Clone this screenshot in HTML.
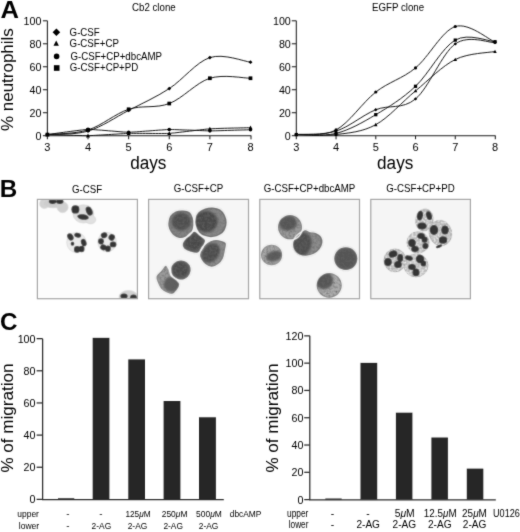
<!DOCTYPE html>
<html><head><meta charset="utf-8"><title>Figure</title>
<style>html,body{margin:0;padding:0;background:#fff;}body{width:520px;height:532px;overflow:hidden;font-family:"Liberation Sans", sans-serif;}svg{display:block;}</style>
</head><body>
<svg width="520" height="532" viewBox="0 0 520 532" font-family='"Liberation Sans", sans-serif'>
<rect width="520" height="532" fill="#fff"/>
<defs><filter id="soft" x="0" y="0" width="520" height="532" filterUnits="userSpaceOnUse"><feConvolveMatrix order="3" kernelMatrix="0.02 0.08 0.02 0.08 0.60 0.08 0.02 0.08 0.02" divisor="1" edgeMode="duplicate"/></filter></defs>
<g filter="url(#soft)">
<g font-size="24.2" font-weight="bold" fill="#000">
<text x="0.6" y="17.8" textLength="18.5" lengthAdjust="spacingAndGlyphs">A</text>
<text x="-0.3" y="196.5">B</text>
<text x="0.1" y="330.1">C</text>
</g>
<g stroke="#222" stroke-width="1.05" fill="none">
<path d="M47.40,20.80 V135.70 H251.30"/>
<path d="M42.90,135.70 H47.40"/>
<path d="M42.90,112.72 H47.40"/>
<path d="M42.90,89.74 H47.40"/>
<path d="M42.90,66.76 H47.40"/>
<path d="M42.90,43.78 H47.40"/>
<path d="M42.90,20.80 H47.40"/>
<path d="M47.40,135.70 V139.20"/>
<path d="M88.02,135.70 V139.20"/>
<path d="M128.64,135.70 V139.20"/>
<path d="M169.26,135.70 V139.20"/>
<path d="M209.88,135.70 V139.20"/>
<path d="M251.00,135.70 V139.20"/>
</g>
<g font-size="10.7" fill="#000" text-anchor="end">
<text x="41.40" y="139.70">0</text>
<text x="41.40" y="116.72">20</text>
<text x="41.40" y="93.74">40</text>
<text x="41.40" y="70.76">60</text>
<text x="41.40" y="47.78">80</text>
<text x="41.40" y="24.80">100</text>
</g>
<g font-size="11" fill="#000" text-anchor="middle">
<text x="47.40" y="151.00">3</text>
<text x="88.02" y="151.00">4</text>
<text x="128.64" y="151.00">5</text>
<text x="169.26" y="151.00">6</text>
<text x="209.88" y="151.00">7</text>
<text x="250.50" y="151.00">8</text>
</g>
<path d="M47.40,134.55 C54.17,133.98 74.48,135.13 88.02,131.10 C101.56,127.08 115.10,117.51 128.64,110.42 C142.18,103.34 155.72,97.40 169.26,88.59 C182.80,79.78 196.34,61.97 209.88,57.57 C223.42,53.16 243.73,61.40 250.50,62.16" fill="none" stroke="#111" stroke-width="0.95"/>
<g fill="#000"><path d="M45.45,134.55 L47.40,132.65 L49.35,134.55 L47.40,136.45 Z"/><path d="M86.07,131.10 L88.02,129.20 L89.97,131.10 L88.02,133.00 Z"/><path d="M126.69,110.42 L128.64,108.52 L130.59,110.42 L128.64,112.32 Z"/><path d="M167.31,88.59 L169.26,86.69 L171.21,88.59 L169.26,90.49 Z"/><path d="M207.93,57.57 L209.88,55.67 L211.83,57.57 L209.88,59.47 Z"/><path d="M248.55,62.16 L250.50,60.26 L252.45,62.16 L250.50,64.06 Z"/></g>
<path d="M47.40,134.55 C54.17,133.78 74.48,134.17 88.02,129.95 C101.56,125.74 115.10,113.68 128.64,109.27 C142.18,104.87 155.72,108.70 169.26,103.53 C182.80,98.36 196.34,82.46 209.88,78.25 C223.42,74.04 243.73,78.25 250.50,78.25" fill="none" stroke="#111" stroke-width="0.95"/>
<g fill="#000"><rect x="45.55" y="132.70" width="3.70" height="3.70"/><rect x="86.17" y="128.10" width="3.70" height="3.70"/><rect x="126.79" y="107.42" width="3.70" height="3.70"/><rect x="167.41" y="101.68" width="3.70" height="3.70"/><rect x="208.03" y="76.40" width="3.70" height="3.70"/><rect x="248.65" y="76.40" width="3.70" height="3.70"/></g>
<path d="M47.40,134.55 C49.84,134.62 83.15,135.77 88.02,135.70 C92.89,135.63 123.77,133.54 128.64,133.40 C133.51,133.26 164.39,133.68 169.26,133.40 C174.13,133.13 205.01,129.15 209.88,128.81 C214.75,128.46 248.06,127.73 250.50,127.66" fill="none" stroke="#111" stroke-width="0.95"/>
<g fill="#000"><path d="M45.40,136.23 L47.40,132.45 L49.40,136.23 Z"/><path d="M86.02,137.38 L88.02,133.60 L90.02,137.38 Z"/><path d="M126.64,135.08 L128.64,131.30 L130.64,135.08 Z"/><path d="M167.26,135.08 L169.26,131.30 L171.26,135.08 Z"/><path d="M207.88,130.49 L209.88,126.71 L211.88,130.49 Z"/><path d="M248.50,129.34 L250.50,125.56 L252.50,129.34 Z"/></g>
<path d="M47.40,134.55 C49.84,134.24 83.15,129.52 88.02,129.38 C92.89,129.24 123.77,132.25 128.64,132.25 C133.51,132.26 164.39,129.58 169.26,129.50 C174.13,129.41 205.01,130.86 209.88,130.87 C214.75,130.89 248.06,129.79 250.50,129.73" fill="none" stroke="#111" stroke-width="0.95"/>
<g fill="#000"><circle cx="47.40" cy="134.55" r="1.80"/><circle cx="88.02" cy="129.38" r="1.80"/><circle cx="128.64" cy="132.25" r="1.80"/><circle cx="169.26" cy="129.50" r="1.80"/><circle cx="209.88" cy="130.87" r="1.80"/><circle cx="250.50" cy="129.73" r="1.80"/></g>
<g stroke="#222" stroke-width="1.05" fill="none">
<path d="M296.30,20.80 V135.70 H495.60"/>
<path d="M291.80,135.70 H296.30"/>
<path d="M291.80,112.72 H296.30"/>
<path d="M291.80,89.74 H296.30"/>
<path d="M291.80,66.76 H296.30"/>
<path d="M291.80,43.78 H296.30"/>
<path d="M291.80,20.80 H296.30"/>
<path d="M296.30,135.70 V139.20"/>
<path d="M336.04,135.70 V139.20"/>
<path d="M375.78,135.70 V139.20"/>
<path d="M415.52,135.70 V139.20"/>
<path d="M455.26,135.70 V139.20"/>
<path d="M495.30,135.70 V139.20"/>
</g>
<g font-size="10.7" fill="#000" text-anchor="end">
<text x="290.80" y="139.70">0</text>
<text x="290.80" y="116.72">20</text>
<text x="290.80" y="93.74">40</text>
<text x="290.80" y="70.76">60</text>
<text x="290.80" y="47.78">80</text>
<text x="290.80" y="24.80">100</text>
</g>
<g font-size="11" fill="#000" text-anchor="middle">
<text x="296.30" y="151.00">3</text>
<text x="336.04" y="151.00">4</text>
<text x="375.78" y="151.00">5</text>
<text x="415.52" y="151.00">6</text>
<text x="455.26" y="151.00">7</text>
<text x="495.00" y="151.00">8</text>
</g>
<path d="M296.30,134.55 C302.92,133.78 322.79,137.04 336.04,129.95 C349.29,122.87 362.53,102.38 375.78,92.04 C389.03,81.70 402.27,78.82 415.52,67.91 C428.77,56.99 442.01,30.85 455.26,26.54 C468.51,22.24 488.38,39.47 495.00,42.06" fill="none" stroke="#111" stroke-width="0.95"/>
<g fill="#000"><circle cx="296.30" cy="134.55" r="1.58"/><circle cx="336.04" cy="129.95" r="1.58"/><circle cx="375.78" cy="92.04" r="1.58"/><circle cx="415.52" cy="67.91" r="1.58"/><circle cx="455.26" cy="26.54" r="1.58"/><circle cx="495.00" cy="42.06" r="1.58"/></g>
<path d="M296.30,134.55 C302.92,133.98 322.79,135.24 336.04,131.10 C349.29,126.97 362.53,115.09 375.78,109.73 C389.03,104.37 402.27,109.90 415.52,98.93 C428.77,87.96 442.01,53.28 455.26,43.89 C468.51,34.51 488.38,42.84 495.00,42.63" fill="none" stroke="#111" stroke-width="0.95"/>
<g fill="#000"><path d="M294.58,134.55 L296.30,132.88 L298.02,134.55 L296.30,136.22 Z"/><path d="M334.32,131.10 L336.04,129.43 L337.76,131.10 L336.04,132.78 Z"/><path d="M374.06,109.73 L375.78,108.06 L377.50,109.73 L375.78,111.40 Z"/><path d="M413.80,98.93 L415.52,97.26 L417.24,98.93 L415.52,100.60 Z"/><path d="M453.54,43.89 L455.26,42.22 L456.98,43.89 L455.26,45.57 Z"/><path d="M493.28,42.63 L495.00,40.96 L496.72,42.63 L495.00,44.30 Z"/></g>
<path d="M296.30,134.55 C302.92,134.36 322.79,136.71 336.04,133.40 C349.29,130.09 362.53,122.52 375.78,114.67 C389.03,106.82 402.27,98.72 415.52,86.29 C428.77,73.86 442.01,47.53 455.26,40.10 C468.51,32.67 488.38,41.44 495.00,41.71" fill="none" stroke="#111" stroke-width="0.95"/>
<g fill="#000"><rect x="294.67" y="132.92" width="3.26" height="3.26"/><rect x="334.41" y="131.77" width="3.26" height="3.26"/><rect x="374.15" y="113.05" width="3.26" height="3.26"/><rect x="413.89" y="84.66" width="3.26" height="3.26"/><rect x="453.63" y="38.48" width="3.26" height="3.26"/><rect x="493.37" y="40.08" width="3.26" height="3.26"/></g>
<path d="M296.30,134.55 C302.92,134.55 322.79,136.20 336.04,134.55 C349.29,132.90 362.53,131.95 375.78,124.67 C389.03,117.39 402.27,101.75 415.52,90.89 C428.77,80.03 442.01,66.09 455.26,59.52 C468.51,52.95 488.38,52.82 495.00,51.48" fill="none" stroke="#111" stroke-width="0.95"/>
<g fill="#000"><path d="M294.54,136.03 L296.30,132.70 L298.06,136.03 Z"/><path d="M334.28,136.03 L336.04,132.70 L337.80,136.03 Z"/><path d="M374.02,126.15 L375.78,122.82 L377.54,126.15 Z"/><path d="M413.76,92.37 L415.52,89.04 L417.28,92.37 Z"/><path d="M453.50,61.00 L455.26,57.67 L457.02,61.00 Z"/><path d="M493.24,52.96 L495.00,49.63 L496.76,52.96 Z"/></g>
<g fill="#000">
<text x="132.00" y="11.00" font-size="10.2" textLength="43.68" lengthAdjust="spacingAndGlyphs">Cb2 clone</text>
<text x="372.00" y="11.00" font-size="10.2" textLength="52.12" lengthAdjust="spacingAndGlyphs">EGFP clone</text>
<text x="69.60" y="35.60" font-size="10.2" textLength="30.17" lengthAdjust="spacingAndGlyphs">G-CSF</text>
<text x="69.60" y="46.60" font-size="10.2" textLength="49.32" lengthAdjust="spacingAndGlyphs">G-CSF+CP</text>
<text x="70.40" y="59.50" font-size="10.2" textLength="91.64" lengthAdjust="spacingAndGlyphs">G-CSF+CP+dbcAMP</text>
<text x="69.80" y="70.90" font-size="10.2" textLength="68.46" lengthAdjust="spacingAndGlyphs">G-CSF+CP+PD</text>
</g>
<g fill="#000">
<path d="M52.60,32.30 L56.40,28.59 L60.20,32.30 L56.40,36.00 Z"/>
<path d="M53.50,45.67 L56.20,40.56 L58.90,45.67 Z"/>
<circle cx="56.60" cy="56.40" r="2.79"/>
<rect x="53.89" y="65.19" width="5.62" height="5.62"/>
</g>
<text font-size="18" fill="#000" x="130.2" y="168.6" textLength="36.2" lengthAdjust="spacingAndGlyphs">days</text>
<text font-size="18" fill="#000" x="377.1" y="168.6" textLength="36.2" lengthAdjust="spacingAndGlyphs">days</text>
<text font-size="17" fill="#000" transform="translate(12.8,131.0) rotate(-90)" textLength="102.8" lengthAdjust="spacingAndGlyphs">% neutrophils</text>
<defs>
<filter id="b1" x="-20%" y="-20%" width="140%" height="140%"><feConvolveMatrix order="3" kernelMatrix="0 1 0 1 12 1 0 1 0" divisor="16" edgeMode="none"/></filter>
<filter id="b2" x="-20%" y="-20%" width="140%" height="140%"><feGaussianBlur stdDeviation="1.0"/></filter>
<filter id="tx" x="-5%" y="-5%" width="110%" height="110%"><feConvolveMatrix in="SourceGraphic" order="3" kernelMatrix="0 1 0 1 12 1 0 1 0" divisor="16" edgeMode="none" result="g"/><feTurbulence type="fractalNoise" baseFrequency="0.45" numOctaves="2" seed="7" result="n"/><feColorMatrix in="n" type="matrix" values="0 0 0 0 0.15  0 0 0 0 0.15  0 0 0 0 0.15  1.6 0 0 0 -0.62" result="a"/><feComposite in="a" in2="g" operator="in" result="t"/><feMerge><feMergeNode in="g"/><feMergeNode in="t"/></feMerge></filter>
<filter id="txn" x="-10%" y="-10%" width="120%" height="120%"><feGaussianBlur in="SourceGraphic" stdDeviation="1.0" result="g"/><feTurbulence type="fractalNoise" baseFrequency="0.4" numOctaves="2" seed="23" result="n"/><feColorMatrix in="n" type="matrix" values="0 0 0 0 0.12  0 0 0 0 0.12  0 0 0 0 0.12  1.6 0 0 0 -0.6" result="a"/><feComposite in="a" in2="g" operator="in" result="t"/><feMerge><feMergeNode in="g"/><feMergeNode in="t"/></feMerge></filter>
<filter id="txl" x="-5%" y="-5%" width="110%" height="110%"><feConvolveMatrix in="SourceGraphic" order="3" kernelMatrix="0 1 0 1 12 1 0 1 0" divisor="16" edgeMode="none" result="g"/><feTurbulence type="fractalNoise" baseFrequency="0.5" numOctaves="2" seed="11" result="n"/><feColorMatrix in="n" type="matrix" values="0 0 0 0 1  0 0 0 0 1  0 0 0 0 1  1.6 0 0 0 -0.62" result="a"/><feComposite in="a" in2="g" operator="in" result="t"/><feMerge><feMergeNode in="g"/><feMergeNode in="t"/></feMerge></filter>
<clipPath id="c1"><rect x="37.4" y="199.4" width="100" height="99.3"/></clipPath>
<clipPath id="c2"><rect x="148.6" y="199.4" width="99.9" height="99.3"/></clipPath>
<clipPath id="c3"><rect x="259.8" y="199.4" width="99.7" height="99.3"/></clipPath>
<clipPath id="c4"><rect x="370.8" y="199.4" width="99.6" height="99.3"/></clipPath>
</defs>
<g fill="#000">
<text x="71.91" y="192.50" font-size="10.2" textLength="30.17" lengthAdjust="spacingAndGlyphs">G-CSF</text>
<text x="173.84" y="192.00" font-size="10.2" textLength="49.32" lengthAdjust="spacingAndGlyphs">G-CSF+CP</text>
<text x="263.68" y="192.00" font-size="10.2" textLength="91.64" lengthAdjust="spacingAndGlyphs">G-CSF+CP+dbcAMP</text>
<text x="386.27" y="192.00" font-size="10.2" textLength="68.46" lengthAdjust="spacingAndGlyphs">G-CSF+CP+PD</text>
</g>
<rect x="37.4" y="199.4" width="100.0" height="99.3" fill="#fcfcfc"/>
<rect x="148.6" y="199.4" width="99.9" height="99.3" fill="#f6f6f6"/>
<rect x="259.8" y="199.4" width="99.7" height="99.3" fill="#f6f6f6"/>
<rect x="370.8" y="199.4" width="99.6" height="99.3" fill="#f5f5f5"/>
<g clip-path="url(#c1)">
<g filter="url(#b1)" stroke="#d6d6d6" stroke-width="0.7">
<ellipse transform="translate(76.4,242.5) rotate(0)" rx="9.7" ry="10.0" fill="#ebebeb"/><ellipse transform="translate(107.1,242.1) rotate(0)" rx="9.3" ry="9.7" fill="#ebebeb"/><ellipse transform="translate(83.4,213.9) rotate(0)" rx="10.4" ry="9.1" fill="#dedede"/><ellipse transform="translate(90.6,219.6) rotate(0)" rx="5.2" ry="4.3" fill="#e0e0e0"/><ellipse transform="translate(44.4,203.7) rotate(0)" rx="4.8" ry="4.8" fill="#d2d2d2"/><ellipse transform="translate(53.4,203.5) rotate(0)" rx="10.4" ry="4.3" fill="#cdcdcd"/><ellipse transform="translate(62.6,207.2) rotate(0)" rx="5.5" ry="5.4" fill="#d0d0d0"/>
<ellipse cx="128.5" cy="297" rx="9.5" ry="6.5" fill="#d2d2d2"/>
</g>
<g filter="url(#b1)">
<ellipse transform="translate(70.4,236.9) rotate(-30)" rx="2.9" ry="3.8" fill="#343434"/><ellipse transform="translate(77.7,235.2) rotate(15)" rx="3.5" ry="2.4" fill="#343434"/><ellipse transform="translate(83.7,242.6) rotate(-20)" rx="2.7" ry="3.8" fill="#343434"/><ellipse transform="translate(81.6,249.0) rotate(0)" rx="2.9" ry="3.3" fill="#343434"/><ellipse transform="translate(77.1,249.4) rotate(0)" rx="3.1" ry="3.3" fill="#343434"/><ellipse transform="translate(72.5,243.8) rotate(0)" rx="1.8" ry="2.0" fill="#343434"/><ellipse transform="translate(104.1,235.2) rotate(-20)" rx="3.3" ry="2.9" fill="#343434"/><ellipse transform="translate(111.7,237.4) rotate(30)" rx="3.1" ry="3.3" fill="#343434"/><ellipse transform="translate(113.1,244.4) rotate(0)" rx="3.3" ry="2.9" fill="#343434"/><ellipse transform="translate(107.9,248.7) rotate(0)" rx="2.9" ry="3.1" fill="#343434"/><ellipse transform="translate(103.3,247.3) rotate(30)" rx="3.1" ry="2.9" fill="#343434"/><ellipse transform="translate(101.0,241.3) rotate(0)" rx="2.9" ry="3.1" fill="#343434"/><ellipse transform="translate(75.4,209.4) rotate(0)" rx="4.0" ry="4.2" fill="#343434"/><ellipse transform="translate(89.2,211.1) rotate(-25)" rx="3.1" ry="4.7" fill="#343434"/><ellipse transform="translate(83.0,217.0) rotate(10)" rx="5.8" ry="2.7" fill="#343434"/><ellipse transform="translate(52.6,201.6) rotate(0)" rx="3.7" ry="2.3" fill="#343434"/><ellipse transform="translate(59.8,201.6) rotate(0)" rx="3.7" ry="2.3" fill="#343434"/>
<ellipse cx="124" cy="296" rx="3.6" ry="2.6" fill="#343434"/>
<ellipse cx="133.5" cy="297.5" rx="3.4" ry="3" fill="#343434"/>
</g>
</g>
<defs>
<clipPath id="p2_0"><path d="M155.84,276.43 C156.40,274.31 159.11,272.44 160.75,270.55 C162.38,268.65 164.24,265.22 165.65,265.06 C167.05,264.90 168.26,267.84 169.18,269.57 C170.09,271.30 169.93,273.82 171.14,275.45 C172.35,277.08 174.96,277.90 176.43,279.37 C177.90,280.84 179.80,282.48 179.96,284.27 C180.12,286.07 178.65,288.46 177.41,290.16 C176.17,291.86 174.31,293.98 172.51,294.47 C170.71,294.96 168.59,293.98 166.63,293.10 C164.67,292.22 162.28,290.81 160.75,289.18 C159.21,287.54 158.23,285.42 157.41,283.29 C156.59,281.17 155.29,278.56 155.84,276.43Z"/></clipPath>
<clipPath id="p2_1"><path d="M167.61,223.49 C167.77,221.20 168.26,217.77 169.57,215.65 C170.88,213.52 173.16,211.73 175.45,210.75 C177.74,209.76 180.84,209.60 183.29,209.76 C185.75,209.93 188.46,210.42 190.16,211.73 C191.86,213.03 192.84,215.32 193.49,217.61 C194.14,219.90 194.31,223.00 194.08,225.45 C193.85,227.90 193.42,230.35 192.12,232.31 C190.81,234.27 188.36,236.14 186.24,237.22 C184.11,238.29 181.66,239.11 179.37,238.78 C177.08,238.46 174.31,236.82 172.51,235.25 C170.71,233.69 169.41,231.33 168.59,229.37 C167.77,227.41 167.44,225.78 167.61,223.49Z"/></clipPath>
<clipPath id="p2_2"><path d="M195.06,217.61 C195.55,215.32 196.37,213.36 198.00,211.73 C199.63,210.09 202.41,208.62 204.86,207.80 C207.31,206.99 210.09,206.66 212.71,206.82 C215.32,206.99 218.42,207.48 220.55,208.78 C222.67,210.09 224.31,212.38 225.45,214.67 C226.59,216.95 227.41,219.90 227.41,222.51 C227.41,225.12 226.59,228.23 225.45,230.35 C224.31,232.48 222.67,234.01 220.55,235.25 C218.42,236.50 215.32,237.54 212.71,237.80 C210.09,238.07 207.22,237.64 204.86,236.82 C202.51,236.01 200.22,234.80 198.59,232.90 C196.95,231.01 195.65,228.00 195.06,225.45 C194.47,222.90 194.57,219.90 195.06,217.61Z"/></clipPath>
<clipPath id="p2_3"><path d="M199.37,254.86 C199.54,252.90 200.68,250.03 201.92,248.00 C203.16,245.97 204.86,244.11 206.82,242.71 C208.78,241.30 211.24,239.99 213.69,239.57 C216.14,239.14 219.41,239.57 221.53,240.16 C223.65,240.75 225.78,241.30 226.43,243.10 C227.08,244.90 225.94,248.33 225.45,250.94 C224.96,253.56 224.63,256.50 223.49,258.78 C222.35,261.07 220.55,263.20 218.59,264.67 C216.63,266.14 214.01,267.61 211.73,267.61 C209.44,267.61 206.66,265.97 204.86,264.67 C203.07,263.36 201.86,261.40 200.94,259.76 C200.03,258.13 199.21,256.82 199.37,254.86Z"/></clipPath>
<clipPath id="p2_4"><path d="M182.12,243.49 C182.71,241.40 185.19,238.52 187.22,236.43 C189.24,234.34 192.12,231.14 194.27,230.94 C196.43,230.75 198.26,233.75 200.16,235.25 C202.05,236.76 205.19,237.93 205.65,239.96 C206.10,241.99 204.21,245.19 202.90,247.41 C201.59,249.63 199.96,252.51 197.80,253.29 C195.65,254.08 192.31,252.84 189.96,252.12 C187.61,251.40 184.99,250.42 183.69,248.98 C182.38,247.54 181.53,245.58 182.12,243.49Z"/></clipPath>
<clipPath id="p2_5"><path d="M170.55,268.59 C170.71,266.30 171.86,264.18 173.49,262.71 C175.12,261.24 178.07,259.93 180.35,259.76 C182.64,259.60 185.42,260.42 187.22,261.73 C189.01,263.03 190.65,265.48 191.14,267.61 C191.63,269.73 191.14,272.51 190.16,274.47 C189.18,276.43 187.22,278.46 185.25,279.37 C183.29,280.29 180.52,280.45 178.39,279.96 C176.27,279.47 173.82,278.33 172.51,276.43 C171.20,274.54 170.39,270.88 170.55,268.59Z"/></clipPath>
</defs>
<g clip-path="url(#c2)">
<g filter="url(#tx)">
<path d="M155.84,276.43 C156.40,274.31 159.11,272.44 160.75,270.55 C162.38,268.65 164.24,265.22 165.65,265.06 C167.05,264.90 168.26,267.84 169.18,269.57 C170.09,271.30 169.93,273.82 171.14,275.45 C172.35,277.08 174.96,277.90 176.43,279.37 C177.90,280.84 179.80,282.48 179.96,284.27 C180.12,286.07 178.65,288.46 177.41,290.16 C176.17,291.86 174.31,293.98 172.51,294.47 C170.71,294.96 168.59,293.98 166.63,293.10 C164.67,292.22 162.28,290.81 160.75,289.18 C159.21,287.54 158.23,285.42 157.41,283.29 C156.59,281.17 155.29,278.56 155.84,276.43Z" fill="#6e6e6e"/>
<path d="M155.84,276.43 C156.40,274.31 159.11,272.44 160.75,270.55 C162.38,268.65 164.24,265.22 165.65,265.06 C167.05,264.90 168.26,267.84 169.18,269.57 C170.09,271.30 169.93,273.82 171.14,275.45 C172.35,277.08 174.96,277.90 176.43,279.37 C177.90,280.84 179.80,282.48 179.96,284.27 C180.12,286.07 178.65,288.46 177.41,290.16 C176.17,291.86 174.31,293.98 172.51,294.47 C170.71,294.96 168.59,293.98 166.63,293.10 C164.67,292.22 162.28,290.81 160.75,289.18 C159.21,287.54 158.23,285.42 157.41,283.29 C156.59,281.17 155.29,278.56 155.84,276.43Z" fill="#9a9a9a" transform="translate(167.80,280.91) scale(0.88) translate(-167.80,-280.91)"/>
<path d="M167.61,223.49 C167.77,221.20 168.26,217.77 169.57,215.65 C170.88,213.52 173.16,211.73 175.45,210.75 C177.74,209.76 180.84,209.60 183.29,209.76 C185.75,209.93 188.46,210.42 190.16,211.73 C191.86,213.03 192.84,215.32 193.49,217.61 C194.14,219.90 194.31,223.00 194.08,225.45 C193.85,227.90 193.42,230.35 192.12,232.31 C190.81,234.27 188.36,236.14 186.24,237.22 C184.11,238.29 181.66,239.11 179.37,238.78 C177.08,238.46 174.31,236.82 172.51,235.25 C170.71,233.69 169.41,231.33 168.59,229.37 C167.77,227.41 167.44,225.78 167.61,223.49Z" fill="#5e5e5e"/>
<path d="M167.61,223.49 C167.77,221.20 168.26,217.77 169.57,215.65 C170.88,213.52 173.16,211.73 175.45,210.75 C177.74,209.76 180.84,209.60 183.29,209.76 C185.75,209.93 188.46,210.42 190.16,211.73 C191.86,213.03 192.84,215.32 193.49,217.61 C194.14,219.90 194.31,223.00 194.08,225.45 C193.85,227.90 193.42,230.35 192.12,232.31 C190.81,234.27 188.36,236.14 186.24,237.22 C184.11,238.29 181.66,239.11 179.37,238.78 C177.08,238.46 174.31,236.82 172.51,235.25 C170.71,233.69 169.41,231.33 168.59,229.37 C167.77,227.41 167.44,225.78 167.61,223.49Z" fill="#838383" transform="translate(181.04,223.95) scale(0.88) translate(-181.04,-223.95)"/>
<path d="M195.06,217.61 C195.55,215.32 196.37,213.36 198.00,211.73 C199.63,210.09 202.41,208.62 204.86,207.80 C207.31,206.99 210.09,206.66 212.71,206.82 C215.32,206.99 218.42,207.48 220.55,208.78 C222.67,210.09 224.31,212.38 225.45,214.67 C226.59,216.95 227.41,219.90 227.41,222.51 C227.41,225.12 226.59,228.23 225.45,230.35 C224.31,232.48 222.67,234.01 220.55,235.25 C218.42,236.50 215.32,237.54 212.71,237.80 C210.09,238.07 207.22,237.64 204.86,236.82 C202.51,236.01 200.22,234.80 198.59,232.90 C196.95,231.01 195.65,228.00 195.06,225.45 C194.47,222.90 194.57,219.90 195.06,217.61Z" fill="#616161"/>
<path d="M195.06,217.61 C195.55,215.32 196.37,213.36 198.00,211.73 C199.63,210.09 202.41,208.62 204.86,207.80 C207.31,206.99 210.09,206.66 212.71,206.82 C215.32,206.99 218.42,207.48 220.55,208.78 C222.67,210.09 224.31,212.38 225.45,214.67 C226.59,216.95 227.41,219.90 227.41,222.51 C227.41,225.12 226.59,228.23 225.45,230.35 C224.31,232.48 222.67,234.01 220.55,235.25 C218.42,236.50 215.32,237.54 212.71,237.80 C210.09,238.07 207.22,237.64 204.86,236.82 C202.51,236.01 200.22,234.80 198.59,232.90 C196.95,231.01 195.65,228.00 195.06,225.45 C194.47,222.90 194.57,219.90 195.06,217.61Z" fill="#878787" transform="translate(210.87,222.19) scale(0.88) translate(-210.87,-222.19)"/>
<path d="M199.37,254.86 C199.54,252.90 200.68,250.03 201.92,248.00 C203.16,245.97 204.86,244.11 206.82,242.71 C208.78,241.30 211.24,239.99 213.69,239.57 C216.14,239.14 219.41,239.57 221.53,240.16 C223.65,240.75 225.78,241.30 226.43,243.10 C227.08,244.90 225.94,248.33 225.45,250.94 C224.96,253.56 224.63,256.50 223.49,258.78 C222.35,261.07 220.55,263.20 218.59,264.67 C216.63,266.14 214.01,267.61 211.73,267.61 C209.44,267.61 206.66,265.97 204.86,264.67 C203.07,263.36 201.86,261.40 200.94,259.76 C200.03,258.13 199.21,256.82 199.37,254.86Z" fill="#646464"/>
<path d="M199.37,254.86 C199.54,252.90 200.68,250.03 201.92,248.00 C203.16,245.97 204.86,244.11 206.82,242.71 C208.78,241.30 211.24,239.99 213.69,239.57 C216.14,239.14 219.41,239.57 221.53,240.16 C223.65,240.75 225.78,241.30 226.43,243.10 C227.08,244.90 225.94,248.33 225.45,250.94 C224.96,253.56 224.63,256.50 223.49,258.78 C222.35,261.07 220.55,263.20 218.59,264.67 C216.63,266.14 214.01,267.61 211.73,267.61 C209.44,267.61 206.66,265.97 204.86,264.67 C203.07,263.36 201.86,261.40 200.94,259.76 C200.03,258.13 199.21,256.82 199.37,254.86Z" fill="#8c8c8c" transform="translate(212.90,252.90) scale(0.88) translate(-212.90,-252.90)"/>
<path d="M182.12,243.49 C182.71,241.40 185.19,238.52 187.22,236.43 C189.24,234.34 192.12,231.14 194.27,230.94 C196.43,230.75 198.26,233.75 200.16,235.25 C202.05,236.76 205.19,237.93 205.65,239.96 C206.10,241.99 204.21,245.19 202.90,247.41 C201.59,249.63 199.96,252.51 197.80,253.29 C195.65,254.08 192.31,252.84 189.96,252.12 C187.61,251.40 184.99,250.42 183.69,248.98 C182.38,247.54 181.53,245.58 182.12,243.49Z" fill="#484848"/>
<path d="M182.12,243.49 C182.71,241.40 185.19,238.52 187.22,236.43 C189.24,234.34 192.12,231.14 194.27,230.94 C196.43,230.75 198.26,233.75 200.16,235.25 C202.05,236.76 205.19,237.93 205.65,239.96 C206.10,241.99 204.21,245.19 202.90,247.41 C201.59,249.63 199.96,252.51 197.80,253.29 C195.65,254.08 192.31,252.84 189.96,252.12 C187.61,251.40 184.99,250.42 183.69,248.98 C182.38,247.54 181.53,245.58 182.12,243.49Z" fill="#646464" transform="translate(193.75,243.10) scale(0.88) translate(-193.75,-243.10)"/>
<path d="M170.55,268.59 C170.71,266.30 171.86,264.18 173.49,262.71 C175.12,261.24 178.07,259.93 180.35,259.76 C182.64,259.60 185.42,260.42 187.22,261.73 C189.01,263.03 190.65,265.48 191.14,267.61 C191.63,269.73 191.14,272.51 190.16,274.47 C189.18,276.43 187.22,278.46 185.25,279.37 C183.29,280.29 180.52,280.45 178.39,279.96 C176.27,279.47 173.82,278.33 172.51,276.43 C171.20,274.54 170.39,270.88 170.55,268.59Z" fill="#4f4f4f"/>
<path d="M170.55,268.59 C170.71,266.30 171.86,264.18 173.49,262.71 C175.12,261.24 178.07,259.93 180.35,259.76 C182.64,259.60 185.42,260.42 187.22,261.73 C189.01,263.03 190.65,265.48 191.14,267.61 C191.63,269.73 191.14,272.51 190.16,274.47 C189.18,276.43 187.22,278.46 185.25,279.37 C183.29,280.29 180.52,280.45 178.39,279.96 C176.27,279.47 173.82,278.33 172.51,276.43 C171.20,274.54 170.39,270.88 170.55,268.59Z" fill="#6e6e6e" transform="translate(181.01,270.07) scale(0.88) translate(-181.01,-270.07)"/>
</g>
<g clip-path="url(#p2_0)"><g filter="url(#txn)">
<ellipse transform="translate(171.5,284.3) rotate(0)" rx="7.8" ry="7.5" fill="#5e5e5e"/>
</g></g>
<g clip-path="url(#p2_1)"><g filter="url(#txn)">
<ellipse transform="translate(181.3,221.5) rotate(0)" rx="9.6" ry="9.0" fill="#505050"/>
</g></g>
<g clip-path="url(#p2_2)"><g filter="url(#txn)">
<ellipse transform="translate(206.0,221.5) rotate(0)" rx="11.4" ry="10.6" fill="#4a4a4a"/>
</g></g>
<g clip-path="url(#p2_3)"><g filter="url(#txn)">
<ellipse transform="translate(210.7,252.9) rotate(-52)" rx="10.6" ry="8.0" fill="#4d4d4d"/>
</g></g>
<g clip-path="url(#p2_4)"><g filter="url(#txn)">
<ellipse transform="translate(193.7,242.1) rotate(-20)" rx="9.0" ry="7.6" fill="#4a4a4a"/>
</g></g>
<g clip-path="url(#p2_5)"><g filter="url(#txn)">
<ellipse transform="translate(180.4,269.6) rotate(0)" rx="8.2" ry="8.0" fill="#4c4c4c"/>
</g></g>
<g filter="url(#b1)" fill="none" stroke="#f6f6f6" stroke-width="1.5">
<path d="M155.84,276.43 C156.40,274.31 159.11,272.44 160.75,270.55 C162.38,268.65 164.24,265.22 165.65,265.06 C167.05,264.90 168.26,267.84 169.18,269.57 C170.09,271.30 169.93,273.82 171.14,275.45 C172.35,277.08 174.96,277.90 176.43,279.37 C177.90,280.84 179.80,282.48 179.96,284.27 C180.12,286.07 178.65,288.46 177.41,290.16 C176.17,291.86 174.31,293.98 172.51,294.47 C170.71,294.96 168.59,293.98 166.63,293.10 C164.67,292.22 162.28,290.81 160.75,289.18 C159.21,287.54 158.23,285.42 157.41,283.29 C156.59,281.17 155.29,278.56 155.84,276.43Z"/>
<path d="M167.61,223.49 C167.77,221.20 168.26,217.77 169.57,215.65 C170.88,213.52 173.16,211.73 175.45,210.75 C177.74,209.76 180.84,209.60 183.29,209.76 C185.75,209.93 188.46,210.42 190.16,211.73 C191.86,213.03 192.84,215.32 193.49,217.61 C194.14,219.90 194.31,223.00 194.08,225.45 C193.85,227.90 193.42,230.35 192.12,232.31 C190.81,234.27 188.36,236.14 186.24,237.22 C184.11,238.29 181.66,239.11 179.37,238.78 C177.08,238.46 174.31,236.82 172.51,235.25 C170.71,233.69 169.41,231.33 168.59,229.37 C167.77,227.41 167.44,225.78 167.61,223.49Z"/>
<path d="M195.06,217.61 C195.55,215.32 196.37,213.36 198.00,211.73 C199.63,210.09 202.41,208.62 204.86,207.80 C207.31,206.99 210.09,206.66 212.71,206.82 C215.32,206.99 218.42,207.48 220.55,208.78 C222.67,210.09 224.31,212.38 225.45,214.67 C226.59,216.95 227.41,219.90 227.41,222.51 C227.41,225.12 226.59,228.23 225.45,230.35 C224.31,232.48 222.67,234.01 220.55,235.25 C218.42,236.50 215.32,237.54 212.71,237.80 C210.09,238.07 207.22,237.64 204.86,236.82 C202.51,236.01 200.22,234.80 198.59,232.90 C196.95,231.01 195.65,228.00 195.06,225.45 C194.47,222.90 194.57,219.90 195.06,217.61Z"/>
<path d="M199.37,254.86 C199.54,252.90 200.68,250.03 201.92,248.00 C203.16,245.97 204.86,244.11 206.82,242.71 C208.78,241.30 211.24,239.99 213.69,239.57 C216.14,239.14 219.41,239.57 221.53,240.16 C223.65,240.75 225.78,241.30 226.43,243.10 C227.08,244.90 225.94,248.33 225.45,250.94 C224.96,253.56 224.63,256.50 223.49,258.78 C222.35,261.07 220.55,263.20 218.59,264.67 C216.63,266.14 214.01,267.61 211.73,267.61 C209.44,267.61 206.66,265.97 204.86,264.67 C203.07,263.36 201.86,261.40 200.94,259.76 C200.03,258.13 199.21,256.82 199.37,254.86Z"/>
<path d="M182.12,243.49 C182.71,241.40 185.19,238.52 187.22,236.43 C189.24,234.34 192.12,231.14 194.27,230.94 C196.43,230.75 198.26,233.75 200.16,235.25 C202.05,236.76 205.19,237.93 205.65,239.96 C206.10,241.99 204.21,245.19 202.90,247.41 C201.59,249.63 199.96,252.51 197.80,253.29 C195.65,254.08 192.31,252.84 189.96,252.12 C187.61,251.40 184.99,250.42 183.69,248.98 C182.38,247.54 181.53,245.58 182.12,243.49Z"/>
<path d="M170.55,268.59 C170.71,266.30 171.86,264.18 173.49,262.71 C175.12,261.24 178.07,259.93 180.35,259.76 C182.64,259.60 185.42,260.42 187.22,261.73 C189.01,263.03 190.65,265.48 191.14,267.61 C191.63,269.73 191.14,272.51 190.16,274.47 C189.18,276.43 187.22,278.46 185.25,279.37 C183.29,280.29 180.52,280.45 178.39,279.96 C176.27,279.47 173.82,278.33 172.51,276.43 C171.20,274.54 170.39,270.88 170.55,268.59Z"/>
</g>
</g>
<defs>
<clipPath id="p3_0"><path d="M302.60,227.20 C302.60,228.83 302.26,230.59 301.64,232.10 C301.03,233.61 300.05,235.10 298.91,236.25 C297.77,237.41 296.31,238.40 294.82,239.03 C293.34,239.65 291.61,240.00 290.00,240.00 C288.39,240.00 286.66,239.65 285.18,239.03 C283.69,238.40 282.23,237.41 281.09,236.25 C279.95,235.10 278.97,233.61 278.36,232.10 C277.74,230.59 277.40,228.83 277.40,227.20 C277.40,225.57 277.74,223.81 278.36,222.30 C278.97,220.79 279.95,219.30 281.09,218.15 C282.23,216.99 283.69,216.00 285.18,215.37 C286.66,214.75 288.39,214.40 290.00,214.40 C291.61,214.40 293.34,214.75 294.82,215.37 C296.31,216.00 297.77,216.99 298.91,218.15 C300.05,219.30 301.03,220.79 301.64,222.30 C302.26,223.81 302.60,225.57 302.60,227.20Z"/></clipPath>
<clipPath id="p3_1"><path d="M292.40,245.00 C292.33,243.00 292.90,240.90 294.00,239.00 C295.10,237.10 297.17,235.17 299.00,233.60 C300.83,232.03 303.10,229.93 305.00,229.60 C306.90,229.27 308.57,231.13 310.40,231.60 C312.23,232.07 314.13,231.60 316.00,232.40 C317.87,233.20 320.43,234.63 321.60,236.40 C322.77,238.17 323.27,240.80 323.00,243.00 C322.73,245.20 321.50,247.70 320.00,249.60 C318.50,251.50 316.33,253.27 314.00,254.40 C311.67,255.53 308.50,256.30 306.00,256.40 C303.50,256.50 300.93,255.90 299.00,255.00 C297.07,254.10 295.50,252.67 294.40,251.00 C293.30,249.33 292.47,247.00 292.40,245.00Z"/></clipPath>
<clipPath id="p3_2"><path d="M282.80,255.00 C282.80,256.40 282.49,257.91 281.95,259.21 C281.40,260.51 280.53,261.79 279.52,262.78 C278.51,263.77 277.21,264.63 275.89,265.16 C274.57,265.70 273.03,266.00 271.60,266.00 C270.17,266.00 268.63,265.70 267.31,265.16 C265.99,264.63 264.69,263.77 263.68,262.78 C262.67,261.79 261.80,260.51 261.25,259.21 C260.71,257.91 260.40,256.40 260.40,255.00 C260.40,253.60 260.71,252.09 261.25,250.79 C261.80,249.49 262.67,248.21 263.68,247.22 C264.69,246.23 265.99,245.37 267.31,244.84 C268.63,244.30 270.17,244.00 271.60,244.00 C273.03,244.00 274.57,244.30 275.89,244.84 C277.21,245.37 278.51,246.23 279.52,247.22 C280.53,248.21 281.40,249.49 281.95,250.79 C282.49,252.09 282.80,253.60 282.80,255.00Z"/></clipPath>
<clipPath id="p3_3"><path d="M358.00,258.60 C358.00,260.13 357.67,261.78 357.07,263.19 C356.48,264.61 355.53,266.00 354.43,267.09 C353.33,268.17 351.91,269.10 350.47,269.69 C349.03,270.27 347.36,270.60 345.80,270.60 C344.24,270.60 342.57,270.27 341.13,269.69 C339.69,269.10 338.27,268.17 337.17,267.09 C336.07,266.00 335.12,264.61 334.53,263.19 C333.93,261.78 333.60,260.13 333.60,258.60 C333.60,257.07 333.93,255.42 334.53,254.01 C335.12,252.59 336.07,251.20 337.17,250.11 C338.27,249.03 339.69,248.10 341.13,247.51 C342.57,246.93 344.24,246.60 345.80,246.60 C347.36,246.60 349.03,246.93 350.47,247.51 C351.91,248.10 353.33,249.03 354.43,250.11 C355.53,251.20 356.48,252.59 357.07,254.01 C357.67,255.42 358.00,257.07 358.00,258.60Z"/></clipPath>
<clipPath id="p3_4"><path d="M342.40,285.40 C342.40,287.06 342.04,288.84 341.40,290.37 C340.75,291.91 339.72,293.42 338.53,294.59 C337.34,295.76 335.81,296.78 334.25,297.41 C332.70,298.05 330.88,298.40 329.20,298.40 C327.52,298.40 325.70,298.05 324.15,297.41 C322.59,296.78 321.06,295.76 319.87,294.59 C318.68,293.42 317.65,291.91 317.00,290.37 C316.36,288.84 316.00,287.06 316.00,285.40 C316.00,283.74 316.36,281.96 317.00,280.43 C317.65,278.89 318.68,277.38 319.87,276.21 C321.06,275.04 322.59,274.02 324.15,273.39 C325.70,272.75 327.52,272.40 329.20,272.40 C330.88,272.40 332.70,272.75 334.25,273.39 C335.81,274.02 337.34,275.04 338.53,276.21 C339.72,277.38 340.75,278.89 341.40,280.43 C342.04,281.96 342.40,283.74 342.40,285.40Z"/></clipPath>
</defs>
<g clip-path="url(#c3)">
<g filter="url(#tx)">
<path d="M302.60,227.20 C302.60,228.83 302.26,230.59 301.64,232.10 C301.03,233.61 300.05,235.10 298.91,236.25 C297.77,237.41 296.31,238.40 294.82,239.03 C293.34,239.65 291.61,240.00 290.00,240.00 C288.39,240.00 286.66,239.65 285.18,239.03 C283.69,238.40 282.23,237.41 281.09,236.25 C279.95,235.10 278.97,233.61 278.36,232.10 C277.74,230.59 277.40,228.83 277.40,227.20 C277.40,225.57 277.74,223.81 278.36,222.30 C278.97,220.79 279.95,219.30 281.09,218.15 C282.23,216.99 283.69,216.00 285.18,215.37 C286.66,214.75 288.39,214.40 290.00,214.40 C291.61,214.40 293.34,214.75 294.82,215.37 C296.31,216.00 297.77,216.99 298.91,218.15 C300.05,219.30 301.03,220.79 301.64,222.30 C302.26,223.81 302.60,225.57 302.60,227.20Z" fill="#6e6e6e"/>
<path d="M302.60,227.20 C302.60,228.83 302.26,230.59 301.64,232.10 C301.03,233.61 300.05,235.10 298.91,236.25 C297.77,237.41 296.31,238.40 294.82,239.03 C293.34,239.65 291.61,240.00 290.00,240.00 C288.39,240.00 286.66,239.65 285.18,239.03 C283.69,238.40 282.23,237.41 281.09,236.25 C279.95,235.10 278.97,233.61 278.36,232.10 C277.74,230.59 277.40,228.83 277.40,227.20 C277.40,225.57 277.74,223.81 278.36,222.30 C278.97,220.79 279.95,219.30 281.09,218.15 C282.23,216.99 283.69,216.00 285.18,215.37 C286.66,214.75 288.39,214.40 290.00,214.40 C291.61,214.40 293.34,214.75 294.82,215.37 C296.31,216.00 297.77,216.99 298.91,218.15 C300.05,219.30 301.03,220.79 301.64,222.30 C302.26,223.81 302.60,225.57 302.60,227.20Z" fill="#9a9a9a" transform="translate(290.00,227.20) scale(0.88) translate(-290.00,-227.20)"/>
<path d="M292.40,245.00 C292.33,243.00 292.90,240.90 294.00,239.00 C295.10,237.10 297.17,235.17 299.00,233.60 C300.83,232.03 303.10,229.93 305.00,229.60 C306.90,229.27 308.57,231.13 310.40,231.60 C312.23,232.07 314.13,231.60 316.00,232.40 C317.87,233.20 320.43,234.63 321.60,236.40 C322.77,238.17 323.27,240.80 323.00,243.00 C322.73,245.20 321.50,247.70 320.00,249.60 C318.50,251.50 316.33,253.27 314.00,254.40 C311.67,255.53 308.50,256.30 306.00,256.40 C303.50,256.50 300.93,255.90 299.00,255.00 C297.07,254.10 295.50,252.67 294.40,251.00 C293.30,249.33 292.47,247.00 292.40,245.00Z" fill="#646464"/>
<path d="M292.40,245.00 C292.33,243.00 292.90,240.90 294.00,239.00 C295.10,237.10 297.17,235.17 299.00,233.60 C300.83,232.03 303.10,229.93 305.00,229.60 C306.90,229.27 308.57,231.13 310.40,231.60 C312.23,232.07 314.13,231.60 316.00,232.40 C317.87,233.20 320.43,234.63 321.60,236.40 C322.77,238.17 323.27,240.80 323.00,243.00 C322.73,245.20 321.50,247.70 320.00,249.60 C318.50,251.50 316.33,253.27 314.00,254.40 C311.67,255.53 308.50,256.30 306.00,256.40 C303.50,256.50 300.93,255.90 299.00,255.00 C297.07,254.10 295.50,252.67 294.40,251.00 C293.30,249.33 292.47,247.00 292.40,245.00Z" fill="#8c8c8c" transform="translate(307.29,242.85) scale(0.88) translate(-307.29,-242.85)"/>
<path d="M282.80,255.00 C282.80,256.40 282.49,257.91 281.95,259.21 C281.40,260.51 280.53,261.79 279.52,262.78 C278.51,263.77 277.21,264.63 275.89,265.16 C274.57,265.70 273.03,266.00 271.60,266.00 C270.17,266.00 268.63,265.70 267.31,265.16 C265.99,264.63 264.69,263.77 263.68,262.78 C262.67,261.79 261.80,260.51 261.25,259.21 C260.71,257.91 260.40,256.40 260.40,255.00 C260.40,253.60 260.71,252.09 261.25,250.79 C261.80,249.49 262.67,248.21 263.68,247.22 C264.69,246.23 265.99,245.37 267.31,244.84 C268.63,244.30 270.17,244.00 271.60,244.00 C273.03,244.00 274.57,244.30 275.89,244.84 C277.21,245.37 278.51,246.23 279.52,247.22 C280.53,248.21 281.40,249.49 281.95,250.79 C282.49,252.09 282.80,253.60 282.80,255.00Z" fill="#777777"/>
<path d="M282.80,255.00 C282.80,256.40 282.49,257.91 281.95,259.21 C281.40,260.51 280.53,261.79 279.52,262.78 C278.51,263.77 277.21,264.63 275.89,265.16 C274.57,265.70 273.03,266.00 271.60,266.00 C270.17,266.00 268.63,265.70 267.31,265.16 C265.99,264.63 264.69,263.77 263.68,262.78 C262.67,261.79 261.80,260.51 261.25,259.21 C260.71,257.91 260.40,256.40 260.40,255.00 C260.40,253.60 260.71,252.09 261.25,250.79 C261.80,249.49 262.67,248.21 263.68,247.22 C264.69,246.23 265.99,245.37 267.31,244.84 C268.63,244.30 270.17,244.00 271.60,244.00 C273.03,244.00 274.57,244.30 275.89,244.84 C277.21,245.37 278.51,246.23 279.52,247.22 C280.53,248.21 281.40,249.49 281.95,250.79 C282.49,252.09 282.80,253.60 282.80,255.00Z" fill="#a6a6a6" transform="translate(271.60,255.00) scale(0.88) translate(-271.60,-255.00)"/>
<path d="M358.00,258.60 C358.00,260.13 357.67,261.78 357.07,263.19 C356.48,264.61 355.53,266.00 354.43,267.09 C353.33,268.17 351.91,269.10 350.47,269.69 C349.03,270.27 347.36,270.60 345.80,270.60 C344.24,270.60 342.57,270.27 341.13,269.69 C339.69,269.10 338.27,268.17 337.17,267.09 C336.07,266.00 335.12,264.61 334.53,263.19 C333.93,261.78 333.60,260.13 333.60,258.60 C333.60,257.07 333.93,255.42 334.53,254.01 C335.12,252.59 336.07,251.20 337.17,250.11 C338.27,249.03 339.69,248.10 341.13,247.51 C342.57,246.93 344.24,246.60 345.80,246.60 C347.36,246.60 349.03,246.93 350.47,247.51 C351.91,248.10 353.33,249.03 354.43,250.11 C355.53,251.20 356.48,252.59 357.07,254.01 C357.67,255.42 358.00,257.07 358.00,258.60Z" fill="#505050"/>
<path d="M358.00,258.60 C358.00,260.13 357.67,261.78 357.07,263.19 C356.48,264.61 355.53,266.00 354.43,267.09 C353.33,268.17 351.91,269.10 350.47,269.69 C349.03,270.27 347.36,270.60 345.80,270.60 C344.24,270.60 342.57,270.27 341.13,269.69 C339.69,269.10 338.27,268.17 337.17,267.09 C336.07,266.00 335.12,264.61 334.53,263.19 C333.93,261.78 333.60,260.13 333.60,258.60 C333.60,257.07 333.93,255.42 334.53,254.01 C335.12,252.59 336.07,251.20 337.17,250.11 C338.27,249.03 339.69,248.10 341.13,247.51 C342.57,246.93 344.24,246.60 345.80,246.60 C347.36,246.60 349.03,246.93 350.47,247.51 C351.91,248.10 353.33,249.03 354.43,250.11 C355.53,251.20 356.48,252.59 357.07,254.01 C357.67,255.42 358.00,257.07 358.00,258.60Z" fill="#707070" transform="translate(345.80,258.60) scale(0.88) translate(-345.80,-258.60)"/>
<path d="M342.40,285.40 C342.40,287.06 342.04,288.84 341.40,290.37 C340.75,291.91 339.72,293.42 338.53,294.59 C337.34,295.76 335.81,296.78 334.25,297.41 C332.70,298.05 330.88,298.40 329.20,298.40 C327.52,298.40 325.70,298.05 324.15,297.41 C322.59,296.78 321.06,295.76 319.87,294.59 C318.68,293.42 317.65,291.91 317.00,290.37 C316.36,288.84 316.00,287.06 316.00,285.40 C316.00,283.74 316.36,281.96 317.00,280.43 C317.65,278.89 318.68,277.38 319.87,276.21 C321.06,275.04 322.59,274.02 324.15,273.39 C325.70,272.75 327.52,272.40 329.20,272.40 C330.88,272.40 332.70,272.75 334.25,273.39 C335.81,274.02 337.34,275.04 338.53,276.21 C339.72,277.38 340.75,278.89 341.40,280.43 C342.04,281.96 342.40,283.74 342.40,285.40Z" fill="#7b7b7b"/>
<path d="M342.40,285.40 C342.40,287.06 342.04,288.84 341.40,290.37 C340.75,291.91 339.72,293.42 338.53,294.59 C337.34,295.76 335.81,296.78 334.25,297.41 C332.70,298.05 330.88,298.40 329.20,298.40 C327.52,298.40 325.70,298.05 324.15,297.41 C322.59,296.78 321.06,295.76 319.87,294.59 C318.68,293.42 317.65,291.91 317.00,290.37 C316.36,288.84 316.00,287.06 316.00,285.40 C316.00,283.74 316.36,281.96 317.00,280.43 C317.65,278.89 318.68,277.38 319.87,276.21 C321.06,275.04 322.59,274.02 324.15,273.39 C325.70,272.75 327.52,272.40 329.20,272.40 C330.88,272.40 332.70,272.75 334.25,273.39 C335.81,274.02 337.34,275.04 338.53,276.21 C339.72,277.38 340.75,278.89 341.40,280.43 C342.04,281.96 342.40,283.74 342.40,285.40Z" fill="#ababab" transform="translate(329.20,285.40) scale(0.88) translate(-329.20,-285.40)"/>
</g>
<g clip-path="url(#p3_0)"><g filter="url(#txn)">
<ellipse transform="translate(288.0,223.2) rotate(-10)" rx="8.8" ry="7.2" fill="#565656"/>
</g></g>
<g clip-path="url(#p3_1)"><g filter="url(#txn)">
<ellipse transform="translate(301.2,244.4) rotate(20)" rx="10.0" ry="12.4" fill="#505050"/>
</g></g>
<g clip-path="url(#p3_2)"><g filter="url(#txn)">
<ellipse transform="translate(274.0,256.0) rotate(-15)" rx="8.0" ry="5.0" fill="#5a5a5a"/>
</g></g>
<g clip-path="url(#p3_3)"><g filter="url(#txn)">
<ellipse transform="translate(345.8,258.6) rotate(0)" rx="10.4" ry="10.2" fill="#545454"/>
</g></g>
<g clip-path="url(#p3_4)"><g filter="url(#txn)">
<ellipse transform="translate(324.0,280.4) rotate(0)" rx="9.0" ry="8.6" fill="#565656"/>
</g></g>
<g filter="url(#b1)" fill="none" stroke="#f6f6f6" stroke-width="1.3">
<path d="M302.60,227.20 C302.60,228.83 302.26,230.59 301.64,232.10 C301.03,233.61 300.05,235.10 298.91,236.25 C297.77,237.41 296.31,238.40 294.82,239.03 C293.34,239.65 291.61,240.00 290.00,240.00 C288.39,240.00 286.66,239.65 285.18,239.03 C283.69,238.40 282.23,237.41 281.09,236.25 C279.95,235.10 278.97,233.61 278.36,232.10 C277.74,230.59 277.40,228.83 277.40,227.20 C277.40,225.57 277.74,223.81 278.36,222.30 C278.97,220.79 279.95,219.30 281.09,218.15 C282.23,216.99 283.69,216.00 285.18,215.37 C286.66,214.75 288.39,214.40 290.00,214.40 C291.61,214.40 293.34,214.75 294.82,215.37 C296.31,216.00 297.77,216.99 298.91,218.15 C300.05,219.30 301.03,220.79 301.64,222.30 C302.26,223.81 302.60,225.57 302.60,227.20Z"/>
<path d="M292.40,245.00 C292.33,243.00 292.90,240.90 294.00,239.00 C295.10,237.10 297.17,235.17 299.00,233.60 C300.83,232.03 303.10,229.93 305.00,229.60 C306.90,229.27 308.57,231.13 310.40,231.60 C312.23,232.07 314.13,231.60 316.00,232.40 C317.87,233.20 320.43,234.63 321.60,236.40 C322.77,238.17 323.27,240.80 323.00,243.00 C322.73,245.20 321.50,247.70 320.00,249.60 C318.50,251.50 316.33,253.27 314.00,254.40 C311.67,255.53 308.50,256.30 306.00,256.40 C303.50,256.50 300.93,255.90 299.00,255.00 C297.07,254.10 295.50,252.67 294.40,251.00 C293.30,249.33 292.47,247.00 292.40,245.00Z"/>
<path d="M282.80,255.00 C282.80,256.40 282.49,257.91 281.95,259.21 C281.40,260.51 280.53,261.79 279.52,262.78 C278.51,263.77 277.21,264.63 275.89,265.16 C274.57,265.70 273.03,266.00 271.60,266.00 C270.17,266.00 268.63,265.70 267.31,265.16 C265.99,264.63 264.69,263.77 263.68,262.78 C262.67,261.79 261.80,260.51 261.25,259.21 C260.71,257.91 260.40,256.40 260.40,255.00 C260.40,253.60 260.71,252.09 261.25,250.79 C261.80,249.49 262.67,248.21 263.68,247.22 C264.69,246.23 265.99,245.37 267.31,244.84 C268.63,244.30 270.17,244.00 271.60,244.00 C273.03,244.00 274.57,244.30 275.89,244.84 C277.21,245.37 278.51,246.23 279.52,247.22 C280.53,248.21 281.40,249.49 281.95,250.79 C282.49,252.09 282.80,253.60 282.80,255.00Z"/>
<path d="M358.00,258.60 C358.00,260.13 357.67,261.78 357.07,263.19 C356.48,264.61 355.53,266.00 354.43,267.09 C353.33,268.17 351.91,269.10 350.47,269.69 C349.03,270.27 347.36,270.60 345.80,270.60 C344.24,270.60 342.57,270.27 341.13,269.69 C339.69,269.10 338.27,268.17 337.17,267.09 C336.07,266.00 335.12,264.61 334.53,263.19 C333.93,261.78 333.60,260.13 333.60,258.60 C333.60,257.07 333.93,255.42 334.53,254.01 C335.12,252.59 336.07,251.20 337.17,250.11 C338.27,249.03 339.69,248.10 341.13,247.51 C342.57,246.93 344.24,246.60 345.80,246.60 C347.36,246.60 349.03,246.93 350.47,247.51 C351.91,248.10 353.33,249.03 354.43,250.11 C355.53,251.20 356.48,252.59 357.07,254.01 C357.67,255.42 358.00,257.07 358.00,258.60Z"/>
<path d="M342.40,285.40 C342.40,287.06 342.04,288.84 341.40,290.37 C340.75,291.91 339.72,293.42 338.53,294.59 C337.34,295.76 335.81,296.78 334.25,297.41 C332.70,298.05 330.88,298.40 329.20,298.40 C327.52,298.40 325.70,298.05 324.15,297.41 C322.59,296.78 321.06,295.76 319.87,294.59 C318.68,293.42 317.65,291.91 317.00,290.37 C316.36,288.84 316.00,287.06 316.00,285.40 C316.00,283.74 316.36,281.96 317.00,280.43 C317.65,278.89 318.68,277.38 319.87,276.21 C321.06,275.04 322.59,274.02 324.15,273.39 C325.70,272.75 327.52,272.40 329.20,272.40 C330.88,272.40 332.70,272.75 334.25,273.39 C335.81,274.02 337.34,275.04 338.53,276.21 C339.72,277.38 340.75,278.89 341.40,280.43 C342.04,281.96 342.40,283.74 342.40,285.40Z"/>
</g>
</g>
<g clip-path="url(#c4)">
<g filter="url(#txl)" stroke="#a0a0a0" stroke-width="0.8">
<ellipse transform="translate(424.4,220.0) rotate(10)" rx="8.6" ry="11.0" fill="#b8b8b8"/><ellipse transform="translate(440.4,233.0) rotate(-15)" rx="11.2" ry="12.8" fill="#b8b8b8"/><ellipse transform="translate(418.0,242.4) rotate(0)" rx="11.0" ry="10.6" fill="#bcbcbc"/><ellipse transform="translate(395.0,260.4) rotate(0)" rx="11.0" ry="11.4" fill="#b8b8b8"/><ellipse transform="translate(416.0,265.4) rotate(0)" rx="12.0" ry="11.4" fill="#bebebe"/>
</g>
<g filter="url(#b1)">
<ellipse transform="translate(420.0,215.6) rotate(10)" rx="3.0" ry="5.0" fill="#343434"/><ellipse transform="translate(429.0,215.6) rotate(-15)" rx="2.8" ry="4.5" fill="#343434"/><ellipse transform="translate(422.0,226.0) rotate(0)" rx="4.8" ry="3.5" fill="#343434"/><ellipse transform="translate(434.0,230.0) rotate(0)" rx="4.2" ry="5.0" fill="#343434"/><ellipse transform="translate(445.0,230.0) rotate(0)" rx="3.8" ry="4.5" fill="#343434"/><ellipse transform="translate(443.0,240.0) rotate(0)" rx="4.2" ry="3.8" fill="#343434"/><ellipse transform="translate(439.0,246.4) rotate(-20)" rx="3.2" ry="1.5" fill="#343434"/><ellipse transform="translate(421.0,236.0) rotate(0)" rx="3.8" ry="3.0" fill="#343434"/><ellipse transform="translate(424.6,239.6) rotate(0)" rx="3.0" ry="3.2" fill="#343434"/><ellipse transform="translate(412.0,243.0) rotate(0)" rx="3.8" ry="4.0" fill="#343434"/><ellipse transform="translate(415.0,249.0) rotate(0)" rx="3.8" ry="3.0" fill="#343434"/><ellipse transform="translate(425.4,246.0) rotate(0)" rx="3.0" ry="3.0" fill="#343434"/><ellipse transform="translate(393.0,254.0) rotate(-20)" rx="4.5" ry="3.5" fill="#343434"/><ellipse transform="translate(400.2,258.0) rotate(0)" rx="3.0" ry="4.0" fill="#343434"/><ellipse transform="translate(388.0,262.0) rotate(0)" rx="3.8" ry="4.0" fill="#343434"/><ellipse transform="translate(398.0,264.4) rotate(0)" rx="3.8" ry="3.5" fill="#343434"/><ellipse transform="translate(409.0,258.0) rotate(20)" rx="4.0" ry="2.5" fill="#343434"/><ellipse transform="translate(420.0,259.0) rotate(0)" rx="4.2" ry="4.2" fill="#343434"/><ellipse transform="translate(423.4,263.4) rotate(0)" rx="2.8" ry="3.0" fill="#343434"/><ellipse transform="translate(412.0,267.0) rotate(0)" rx="3.8" ry="3.0" fill="#343434"/><ellipse transform="translate(416.0,272.4) rotate(0)" rx="3.5" ry="3.8" fill="#343434"/>
</g>
</g>
<rect x="37.4" y="199.4" width="100.0" height="99.3" fill="none" stroke="#a4a4a4" stroke-width="1.2"/>
<rect x="148.6" y="199.4" width="99.9" height="99.3" fill="none" stroke="#a4a4a4" stroke-width="1.2"/>
<rect x="259.8" y="199.4" width="99.7" height="99.3" fill="none" stroke="#a4a4a4" stroke-width="1.2"/>
<rect x="370.8" y="199.4" width="99.6" height="99.3" fill="none" stroke="#a4a4a4" stroke-width="1.2"/>
<g fill="#262626">
<rect x="58.00" y="498.27" width="16.30" height="1.13"/>
<rect x="92.70" y="337.85" width="16.70" height="161.55"/>
<rect x="128.30" y="359.39" width="16.70" height="140.01"/>
<rect x="163.60" y="401.02" width="16.80" height="98.38"/>
<rect x="199.00" y="417.26" width="16.90" height="82.14"/>
</g>
<g stroke="#2c2c2c" stroke-width="1.25" fill="none">
<path d="M42.60,338.65 V499.60 H223.80"/>
<path d="M36.60,499.40 H42.60"/>
<path d="M36.60,467.25 H42.60"/>
<path d="M36.60,435.10 H42.60"/>
<path d="M36.60,402.95 H42.60"/>
<path d="M36.60,370.80 H42.60"/>
<path d="M36.60,338.65 H42.60"/>
</g>
<g font-size="10.7" fill="#000" text-anchor="end">
<text x="35.50" y="503.40">0</text>
<text x="35.50" y="471.25">20</text>
<text x="35.50" y="439.10">40</text>
<text x="35.50" y="406.95">60</text>
<text x="35.50" y="374.80">80</text>
<text x="35.50" y="342.65">100</text>
</g>
<g fill="#262626">
<rect x="325.30" y="498.51" width="16.30" height="1.09"/>
<rect x="360.50" y="362.88" width="16.70" height="136.72"/>
<rect x="395.90" y="412.68" width="16.50" height="86.92"/>
<rect x="431.40" y="437.52" width="16.50" height="62.08"/>
<rect x="466.80" y="468.63" width="16.50" height="30.97"/>
</g>
<g stroke="#2c2c2c" stroke-width="1.25" fill="none">
<path d="M309.80,335.86 V499.80 H495.80"/>
<path d="M304.20,499.60 H309.80"/>
<path d="M304.20,472.31 H309.80"/>
<path d="M304.20,445.02 H309.80"/>
<path d="M304.20,417.73 H309.80"/>
<path d="M304.20,390.44 H309.80"/>
<path d="M304.20,363.15 H309.80"/>
<path d="M304.20,335.86 H309.80"/>
</g>
<g font-size="10.7" fill="#000" text-anchor="end">
<text x="303.40" y="503.60">0</text>
<text x="303.40" y="476.31">20</text>
<text x="303.40" y="449.02">40</text>
<text x="303.40" y="421.73">60</text>
<text x="303.40" y="394.44">80</text>
<text x="303.40" y="367.15">100</text>
<text x="303.40" y="339.86">120</text>
</g>
<text font-size="16.8" fill="#000" transform="translate(12.9,472.6) rotate(-90)" textLength="109" lengthAdjust="spacingAndGlyphs">% of migration</text>
<text font-size="16.8" fill="#000" transform="translate(278.1,472.6) rotate(-90)" textLength="109" lengthAdjust="spacingAndGlyphs">% of migration</text>
<g fill="#000">
<text x="17.3" y="517.3" text-anchor="start" font-size="9.8" textLength="21.6" lengthAdjust="spacingAndGlyphs">upper</text>
<text x="18.8" y="528.8" text-anchor="start" font-size="9.8" textLength="20.4" lengthAdjust="spacingAndGlyphs">lower</text>
<text x="68.0" y="517.3" text-anchor="middle" font-size="9.8">-</text>
<text x="68.0" y="528.8" text-anchor="middle" font-size="9.8">-</text>
<text x="101.0" y="517.3" text-anchor="middle" font-size="9.8">-</text>
<text x="101.4" y="528.8" text-anchor="middle" font-size="9.8" textLength="19.6" lengthAdjust="spacingAndGlyphs">2-AG</text>
<text x="138.0" y="517.3" text-anchor="middle" font-size="9.8" textLength="25.2" lengthAdjust="spacingAndGlyphs">125<tspan font-style="italic">&#956;</tspan>M</text>
<text x="137.5" y="528.8" text-anchor="middle" font-size="9.8" textLength="19.6" lengthAdjust="spacingAndGlyphs">2-AG</text>
<text x="174.6" y="517.3" text-anchor="middle" font-size="9.8" textLength="25.8" lengthAdjust="spacingAndGlyphs">250<tspan font-style="italic">&#956;</tspan>M</text>
<text x="173.2" y="528.8" text-anchor="middle" font-size="9.8" textLength="19.6" lengthAdjust="spacingAndGlyphs">2-AG</text>
<text x="209.0" y="517.3" text-anchor="middle" font-size="9.8" textLength="25.8" lengthAdjust="spacingAndGlyphs">500<tspan font-style="italic">&#956;</tspan>M</text>
<text x="208.6" y="528.8" text-anchor="middle" font-size="9.8" textLength="19.6" lengthAdjust="spacingAndGlyphs">2-AG</text>
<text x="229.8" y="517.3" text-anchor="start" font-size="9.8" textLength="31.6" lengthAdjust="spacingAndGlyphs">dbcAMP</text>
<text x="287.0" y="516.5" text-anchor="start" font-size="10.3" textLength="21.4" lengthAdjust="spacingAndGlyphs">upper</text>
<text x="288.7" y="528.1" text-anchor="start" font-size="10.3" textLength="19.8" lengthAdjust="spacingAndGlyphs">lower</text>
<text x="332.5" y="516.5" text-anchor="middle" font-size="10.3">-</text>
<text x="332.5" y="528.1" text-anchor="middle" font-size="10.3">-</text>
<text x="368.0" y="516.5" text-anchor="middle" font-size="10.3">-</text>
<text x="368.2" y="528.1" text-anchor="middle" font-size="10.3" textLength="23.6" lengthAdjust="spacingAndGlyphs">2-AG</text>
<text x="404.7" y="516.5" text-anchor="middle" font-size="10.3" textLength="20.0" lengthAdjust="spacingAndGlyphs">5<tspan font-style="italic">&#956;</tspan>M</text>
<text x="404.4" y="528.1" text-anchor="middle" font-size="10.3" textLength="23.6" lengthAdjust="spacingAndGlyphs">2-AG</text>
<text x="440.2" y="516.5" text-anchor="middle" font-size="10.3" textLength="32.8" lengthAdjust="spacingAndGlyphs">12.5<tspan font-style="italic">&#956;</tspan>M</text>
<text x="439.8" y="528.1" text-anchor="middle" font-size="10.3" textLength="23.6" lengthAdjust="spacingAndGlyphs">2-AG</text>
<text x="474.5" y="516.5" text-anchor="middle" font-size="10.3" textLength="24.8" lengthAdjust="spacingAndGlyphs">25<tspan font-style="italic">&#956;</tspan>M</text>
<text x="474.6" y="528.1" text-anchor="middle" font-size="10.3" textLength="23.6" lengthAdjust="spacingAndGlyphs">2-AG</text>
<text x="493.0" y="516.5" text-anchor="start" font-size="10.3" textLength="26.8" lengthAdjust="spacingAndGlyphs">U0126</text>
</g>
</g>
</svg></body></html>
